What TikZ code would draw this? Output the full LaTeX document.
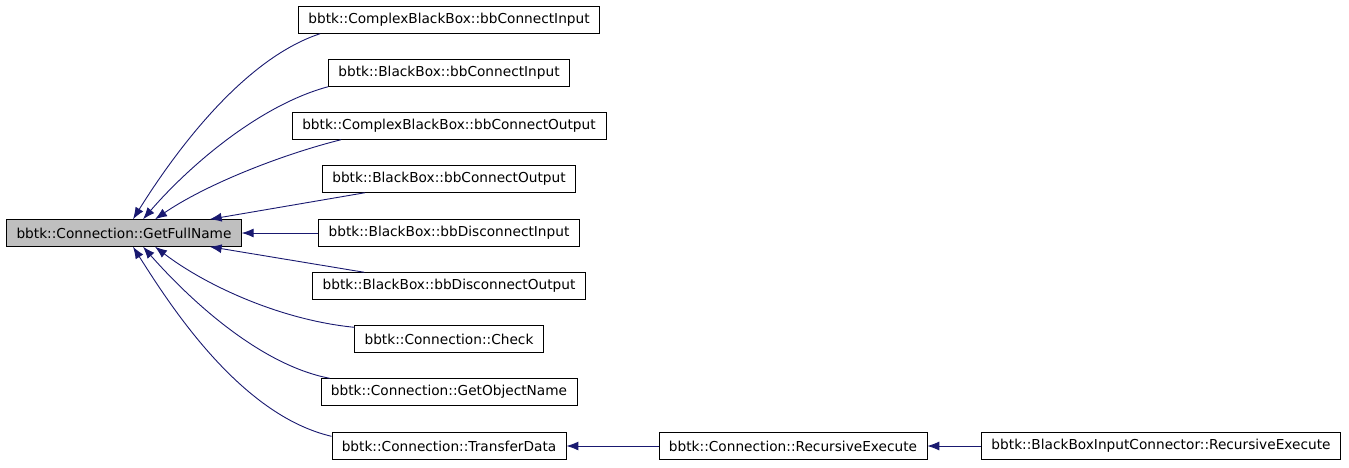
\documentclass[tikz,border=0pt]{standalone}
\usepackage{fontspec}
\setmainfont{DejaVu Sans}
\usepackage{tikz}
\usetikzlibrary{arrows.meta,calc}
\definecolor{callblue}{RGB}{25,25,112}
\definecolor{mainfill}{RGB}{191,191,191}
\tikzset{
  fn/.style={draw=black, fill=white, minimum height=27pt, inner xsep=10pt, font=\fontsize{13.7}{16}\selectfont},
  mainfn/.style={fn, fill=mainfill},
  call/.style={draw=callblue, line width=0.9pt, {Latex[length=12pt,width=9pt]}-}
}
\begin{document}
\begin{tikzpicture}[x=1pt,y=-1pt]
\useasboundingbox (0,0) rectangle (1349,467);
\node[mainfn] (main) at (124,233) {bbtk::Connection::GetFullName};
\node[fn] (cbbIn)  at (449,20)  {bbtk::ComplexBlackBox::bbConnectInput};
\node[fn] (bbIn)   at (449,73)  {bbtk::BlackBox::bbConnectInput};
\node[fn] (cbbOut) at (449,126) {bbtk::ComplexBlackBox::bbConnectOutput};
\node[fn] (bbOut)  at (449,179) {bbtk::BlackBox::bbConnectOutput};
\node[fn] (disIn)  at (449,233) {bbtk::BlackBox::bbDisconnectInput};
\node[fn] (disOut) at (449,286) {bbtk::BlackBox::bbDisconnectOutput};
\node[fn] (check)  at (449,339) {bbtk::Connection::Check};
\node[fn] (objName) at (449,392) {bbtk::Connection::GetObjectName};
\node[fn] (transfer) at (449,446) {bbtk::Connection::TransferData};
\node[fn] (recExec) at (793,446) {bbtk::Connection::RecursiveExecute};
\node[fn] (inRecExec) at (1161,446) {bbtk::BlackBoxInputConnector::RecursiveExecute};
% callers above
\draw[call] ($(main.north)+(9,0)$) .. controls (170,160) and (240,60) .. ($(cbbIn.south west)+(22,0)$);
\draw[call] ($(main.north)+(19,0)$) .. controls (190,165) and (260,105) .. ($(bbIn.south west)+(0,0)$);
\draw[call] ($(main.north)+(31,0)$) .. controls (205,185) and (280,155) .. ($(cbbOut.south west)+(49,0)$);
\draw[call] ($(main.north east)+(-32,0)$) -- ($(bbOut.south west)+(43,0)$);
\draw[call] (main.east) -- (disIn.west);
% callers below
\draw[call] ($(main.south east)+(-32,0)$) -- ($(disOut.north west)+(52,0)$);
\draw[call] ($(main.south)+(31,0)$) .. controls (205,285) and (280,320) .. ($(check.north west)+(0,2)$);
\draw[call] ($(main.south)+(19,0)$) .. controls (190,300) and (260,365) .. ($(objName.north west)+(9,0)$);
\draw[call] ($(main.south)+(9,0)$) .. controls (170,305) and (240,415) .. ($(transfer.north west)+(0,4)$);
\draw[call] (transfer.east) -- (recExec.west);
\draw[call] (recExec.east) -- (inRecExec.west);
\end{tikzpicture}
\end{document}
